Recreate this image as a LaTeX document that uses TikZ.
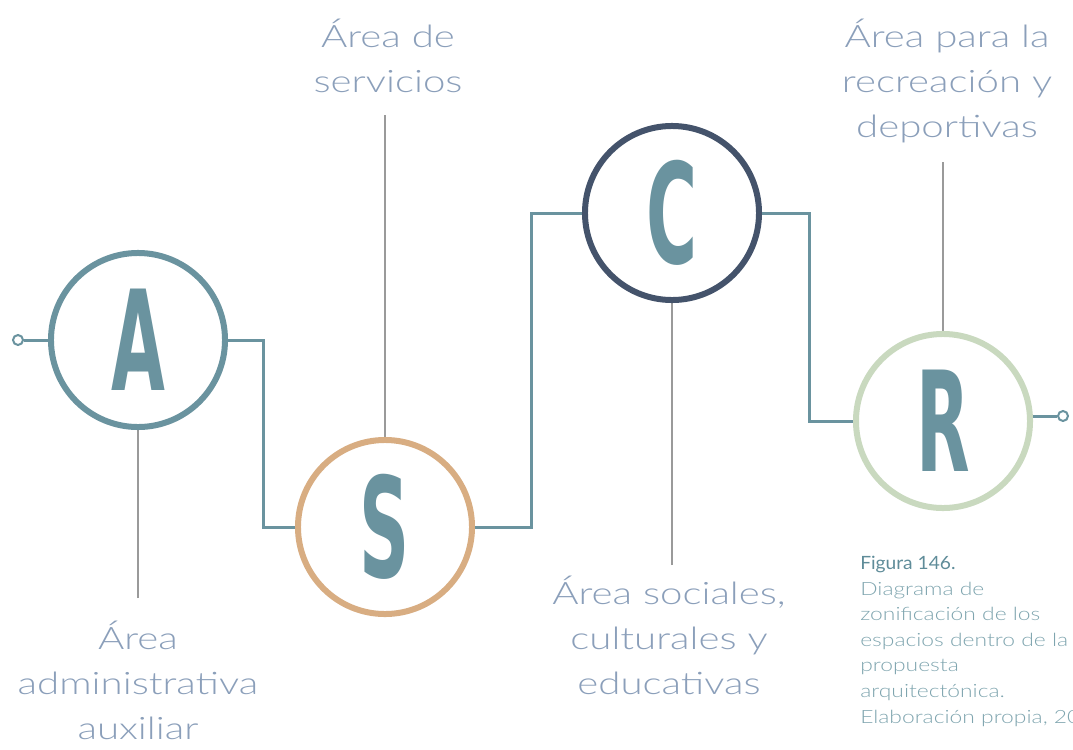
\documentclass[tikz,border=0pt]{standalone}
\usepackage{fontspec}
\setmainfont{Lato}
\newfontfamily\lightfont{Lato Light}[FakeStretch=1.3]
\newfontfamily\captionlight{Lato Light}[FakeStretch=1.25]
\newfontfamily\captionhead{Lato}[FakeStretch=1.05]
\newfontfamily\letterfont{DejaVu Sans}
\usetikzlibrary{positioning}

\definecolor{zoneteal}{HTML}{6A939F}
\definecolor{zonetan}{HTML}{D8AD82}
\definecolor{zonenavy}{HTML}{44536B}
\definecolor{zonesage}{HTML}{C9D9BF}
\definecolor{labelblue}{HTML}{8B9FBA}
\definecolor{leadgray}{HTML}{9A9A9A}
\definecolor{capdark}{HTML}{5F8C99}
\definecolor{caplight}{HTML}{7FA5AF}

\newcommand{\zoneletter}[1]{\scalebox{0.5}[1]{#1}}

\begin{document}
\begin{tikzpicture}[x=0.025cm, y=-0.025cm,
			zone/.style={draw, circle, line width=0.15cm, minimum size=4.35cm, inner sep=0, fill=white, text=zoneteal, font=\letterfont\bfseries\fontsize{99}{99}\selectfont},
			terminal/.style={draw=zoneteal, circle, line width=0.05cm, fill=white, minimum size=0.25cm, inner sep=0},
			link/.style={draw=zoneteal, line width=0.075cm},
			lead/.style={draw=leadgray, line width=0.035cm},
			zonelabel/.style={align=center, anchor=base, inner sep=0, text=labelblue, font=\lightfont\fontsize{22}{32}\selectfont},
			caption/.style={align=left, anchor=base west, inner sep=0, text=caplight, font=\captionlight\fontsize{13}{18.2}\selectfont}]
			
			\useasboundingbox (0,0) rectangle (1073,750);
			
			\coordinate (Atip) at (138,598);
			\coordinate (Stip) at (385,115);
			\coordinate (Ctip) at (672,565);
			\coordinate (Rtip) at (943,162);
			
			\draw[lead] (Atip) -- (138,340);
			\draw[lead] (Stip) -- (385,527);
			\draw[lead] (Ctip) -- (672,213);
			\draw[lead] (Rtip) -- (943,421);
			
			\node[zone, draw=zoneteal] (A) at (138,340) {\zoneletter{A}};
			\node[zone, draw=zonetan] (S) at (385,527) {\zoneletter{S}};
			\node[zone, draw=zonenavy] (C) at (672,213) {\zoneletter{C}};
			\node[zone, draw=zonesage] (R) at (943,421) {\zoneletter{R}};
			
			\node[terminal] (in) at (18,340) {};
			\node[terminal] (out) at (1063,416) {};
			
			\draw[link] (in) -- (A);
			\draw[link] (A.east) -- ++(35,0) |- (S.west);
			\draw[link] (S.east) -- ++(56,0) |- (C.west);
			\draw[link] (C.east) -- ++(47,0) |- (R.west);
			\draw[link] (out) -- (out -| R.east);
			
			\node[zonelabel] (Alabel) at (138,739) {Área\\administrativa\\auxiliar};
			\node[zonelabel] (Slabel) at (388,92) {Área de\\servicios};
			\node[zonelabel] (Clabel) at (669,694) {Área sociales,\\culturales y\\educativas};
			\node[zonelabel] (Rlabel) at (947,137) {Área para la\\recreación y\\deportivas};
			
			\node[caption] (fig) at (860,723) {{\captionhead\color{capdark}Figura 146.}\\Diagrama de\\zonificación de los\\espacios dentro de la\\propuesta\\arquitectónica.\\Elaboración propia, 20};
			
		\end{tikzpicture}
\end{document}
